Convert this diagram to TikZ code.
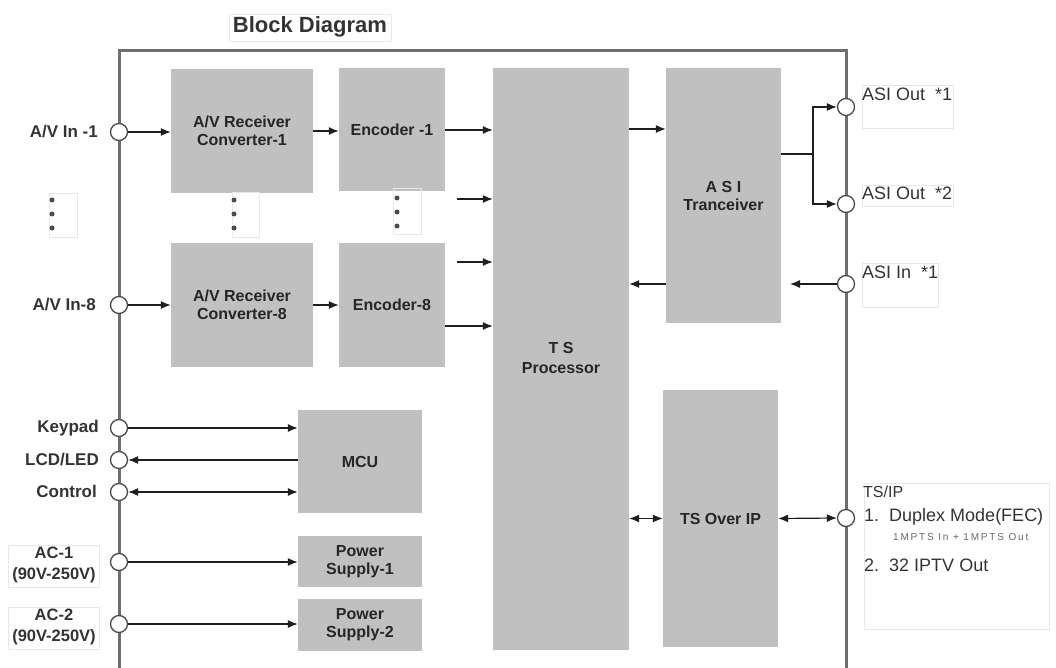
\documentclass[tikz,border=0pt]{standalone}
\usepackage{fontspec}
\setmainfont{Liberation Sans}
\usetikzlibrary{arrows.meta}
\definecolor{boxgray}{HTML}{C0C0C0}
\definecolor{framegray}{HTML}{6E6E6E}
\definecolor{portgray}{HTML}{4A4A4A}
\definecolor{linec}{HTML}{1E1E1E}
\definecolor{faintc}{HTML}{E8E8E8}
\begin{document}
\begin{tikzpicture}[x=1pt,y=-1pt,
  blk/.style={fill=boxgray, draw=none, font=\bfseries\fontsize{16}{18}\selectfont, align=center, inner sep=0pt, text=black!85},
  port/.style={circle, draw=portgray, fill=white, line width=1.3pt, minimum size=17pt, inner sep=0pt},
  arr/.style={draw=linec, line width=1.2pt, -{Latex[length=10pt,width=8pt]}},
  darr/.style={draw=linec, line width=1.2pt, {Latex[length=10pt,width=8pt]}-{Latex[length=10pt,width=8pt]}},
  plainline/.style={draw=linec, line width=1.2pt},
  lbl/.style={font=\bfseries\fontsize{17}{19}\selectfont, inner sep=0pt, text=black!80},
  rlbl/.style={font=\fontsize{18}{20}\selectfont, inner sep=0pt, anchor=west, text=black!80},
  faint/.style={draw=faintc, line width=0.8pt},
  frame/.style={draw=framegray, line width=3pt},
  dotmark/.style={circle, fill=black!70, inner sep=0pt, minimum size=5pt}
]
\useasboundingbox (0,0) rectangle (1056,668);

% title
\draw[faint] (229,14) rectangle (391,41);
\node[font=\bfseries\fontsize{22}{24}\selectfont, text=black!80] (title) at (310,27) {Block Diagram};

% frame
\draw[frame] (119,668) -- (119,51) -- (846,51) -- (846,668);

% blocks
\node[blk, minimum width=142pt, minimum height=124pt] (conv1) at (242,131) {A/V Receiver\\Converter-1};
\node[blk, minimum width=106pt, minimum height=123pt] (enc1) at (392,130) {Encoder -1};
\node[blk, minimum width=142pt, minimum height=124pt] (conv8) at (242,305) {A/V Receiver\\Converter-8};
\node[blk, minimum width=106pt, minimum height=124pt] (enc8) at (392,305) {Encoder-8};
\node[blk, minimum width=136pt, minimum height=582pt] (tsp) at (561,359) {};
\node[font=\bfseries\fontsize{16}{20}\selectfont, align=center, text=black!85] (tsptext) at (561,358) {T S\\Processor};
\node[blk, minimum width=115pt, minimum height=255pt] (asi) at (723.5,195.5) {A S I\\Tranceiver};
\node[blk, minimum width=115pt, minimum height=257pt] (tsoip) at (720.5,518.5) {TS Over IP};
\node[blk, minimum width=124pt, minimum height=103pt] (mcu) at (360,461.5) {MCU};
\node[blk, minimum width=124pt, minimum height=51pt] (ps1) at (360,561.5) {Power\\Supply-1};
\node[blk, minimum width=124pt, minimum height=52pt] (ps2) at (360,625) {Power\\Supply-2};

% ports
\node[port] (in1) at (119,132) {};
\node[port] (in8) at (119,305) {};
\node[port] (key) at (119,428) {};
\node[port] (lcd) at (119,460) {};
\node[port] (ctl) at (119,492) {};
\node[port] (ac1) at (119,562) {};
\node[port] (ac2) at (119,624) {};
\node[port] (out1) at (846,107) {};
\node[port] (out2) at (846,204) {};
\node[port] (asiin) at (846,284) {};
\node[port] (tsip) at (846,518) {};

% helper coordinates
\coordinate (f1) at (457,199);
\coordinate (f2) at (457,262);
\coordinate (e8o) at (445,326);
\coordinate (c1o) at (313,131);
\coordinate (e1o) at (445,130);
\coordinate (tpo) at (629,129);
\coordinate (asio) at (666,284);
\coordinate (asiinend) at (790,284);
\coordinate (split) at (813,154);

% arrows
\draw[arr] (in1.east) -- (in1 -| conv1.west);
\draw[arr] (c1o) -- (c1o -| enc1.west);
\draw[arr] (e1o) -- (e1o -| tsp.west);
\draw[arr] (f1) -- (f1 -| tsp.west);
\draw[arr] (f2) -- (f2 -| tsp.west);
\draw[arr] (e8o) -- (e8o -| tsp.west);
\draw[arr] (in8.east) -- (in8 -| conv8.west);
\draw[arr] (conv8.east |- in8) -- (enc8.west |- in8);
\draw[arr] (tpo) -- (tpo -| asi.west);
\draw[arr] (asio) -- (asio -| tsp.east);
\draw[arr] (asiin.west) -- (asiinend);
\draw[plainline] (split -| asi.east) -- (split);
\draw[arr] (split) |- (out1.west);
\draw[arr] (split) |- (out2.west);
\draw[darr] (tsp.east |- tsoip) -- (tsoip.west);
\draw[darr] (tsoip.east) -- (tsip.west);
\draw[arr] (key.east) -- (key -| mcu.west);
\draw[arr] (lcd -| mcu.west) -- (lcd.east);
\draw[darr] (ctl.east) -- (ctl -| mcu.west);
\draw[arr] (ac1.east) -- (ac1 -| ps1.west);
\draw[arr] (ac2.east) -- (ac2 -| ps2.west);

% dots
\draw[faint] (49,193) rectangle (77,237);
\draw[faint] (232,192) rectangle (259,237);
\draw[faint] (393,188) rectangle (421,234);
\node[dotmark] (d1a) at (52,200) {};
\node[dotmark] (d1b) at (52,214) {};
\node[dotmark] (d1c) at (52,228) {};
\node[dotmark] (d2a) at (234,200) {};
\node[dotmark] (d2b) at (234,214) {};
\node[dotmark] (d2c) at (234,228) {};
\node[dotmark] (d3a) at (397,198) {};
\node[dotmark] (d3b) at (397,212) {};
\node[dotmark] (d3c) at (397,226) {};

% left labels
\node[lbl, anchor=east] (lin1) at (98,132) {A/V In -1};
\node[lbl, anchor=east] (lin8) at (96,305) {A/V In-8};
\node[lbl, anchor=east] (lkey) at (99,428) {Keypad};
\node[lbl, anchor=east] (llcd) at (99,460) {LCD/LED};
\node[lbl, anchor=east] (lctl) at (97,491) {Control};
\draw[faint] (8,545) rectangle (99,587);
\draw[faint] (8,607) rectangle (99,649);
\node[lbl, align=center, font=\bfseries\fontsize{16.5}{21}\selectfont] (lac1) at (54,565) {AC-1\\(90V-250V)};
\node[lbl, align=center, font=\bfseries\fontsize{16.5}{21}\selectfont] (lac2) at (54,627) {AC-2\\(90V-250V)};

% right labels
\draw[faint] (862,85) rectangle (953,128);
\draw[faint] (862,185) rectangle (953,206);
\draw[faint] (862,263) rectangle (938,307);
\draw[faint] (864,483) rectangle (1049,629);
\node[rlbl] (lout1) at (862,94) {ASI Out\ \ *1};
\node[rlbl] (lout2) at (862,193) {ASI Out\ \ *2};
\node[rlbl] (lasiin) at (862,272) {ASI In\ \ *1};
\node[rlbl, font=\fontsize{16}{18}\selectfont] (ltsip) at (863,492) {TS/IP};
\node[rlbl, font=\fontsize{18}{20}\selectfont] (lmode1) at (864,517) {1.\ \ Duplex Mode(FEC)};
\node[rlbl, font=\fontsize{10}{12}\selectfont\addfontfeatures{LetterSpace=18}, text=black!60] (lmpts) at (893,537) {1MPTS In + 1MPTS Out};
\node[rlbl, font=\fontsize{18}{20}\selectfont] (lmode2) at (864,565) {2.\ \ 32 IPTV Out};
\end{tikzpicture}
\end{document}
